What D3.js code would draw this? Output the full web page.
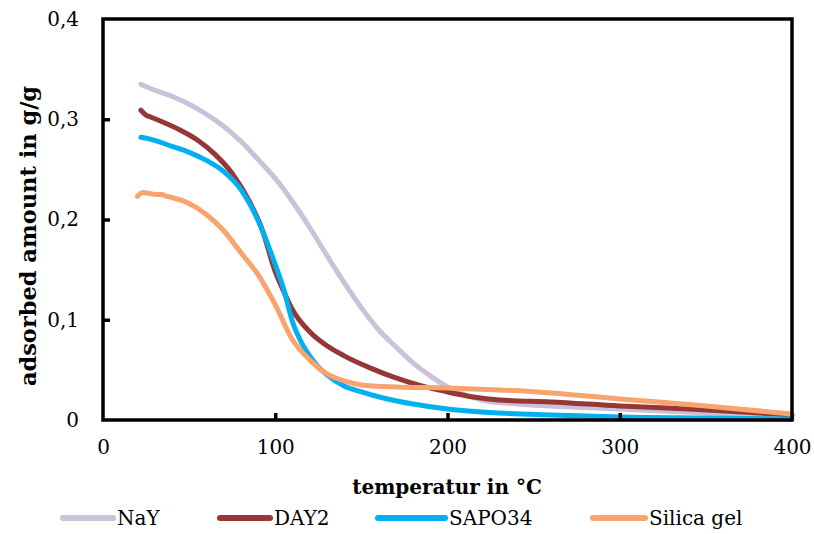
<!DOCTYPE html>
<html>
<head>
<meta charset="utf-8">
<script src="https://cdn.jsdelivr.net/npm/d3@7"></script>
<style>
  body { margin: 0; background: #fff; }
  text { font-family: "DejaVu Serif", "Liberation Serif", serif; fill: #000; }
</style>
</head>
<body>
<div id="chart"></div>
<script>
// series names and colours (legend order)
var seriesNames = ['NaY', 'DAY2', 'SAPO34', 'Silica gel'];
var seriesColors = ['#CCC1DA', '#953735', '#00B0F0', '#F9A36F'];

// values (temperature in °C, adsorbed amount in g/g)
var nayT = [22, 30, 40, 50, 60, 70, 80, 90, 100, 110, 120, 130, 140, 150, 160, 170, 180, 190, 200, 210, 220, 240, 260, 300, 350, 400];
var nayV = [0.335, 0.329, 0.323, 0.315, 0.305, 0.293, 0.278, 0.260, 0.241, 0.218, 0.192, 0.164, 0.137, 0.112, 0.090, 0.073, 0.057, 0.044, 0.033, 0.025, 0.020, 0.016, 0.014, 0.011, 0.007, 0.004];

var day2T = [22, 25, 28, 35, 45, 55, 65, 75, 85, 92, 100, 105, 110, 120, 130, 140, 155, 170, 185, 200, 215, 230, 260, 300, 340, 400];
var day2V = [0.309, 0.304, 0.302, 0.297, 0.289, 0.279, 0.265, 0.246, 0.218, 0.192, 0.148, 0.128, 0.110, 0.088, 0.074, 0.064, 0.052, 0.042, 0.034, 0.028, 0.023, 0.020, 0.018, 0.014, 0.011, 0.005];

var sapoT = [22, 30, 40, 50, 60, 70, 80, 90, 100, 105, 110, 115, 120, 125, 130, 140, 150, 165, 180, 200, 230, 260, 300, 350, 400];
var sapoV = [0.282, 0.279, 0.273, 0.267, 0.259, 0.248, 0.230, 0.199, 0.155, 0.130, 0.098, 0.078, 0.064, 0.053, 0.045, 0.034, 0.028, 0.021, 0.016, 0.011, 0.007, 0.005, 0.003, 0.002, 0.001];

var silicaT = [20, 23, 27, 31, 34, 37, 40, 50, 60, 70, 80, 90, 100, 110, 120, 130, 140, 150, 170, 200, 230, 260, 300, 350, 400];
var silicaV = [0.223, 0.227, 0.226, 0.225, 0.225, 0.223, 0.222, 0.216, 0.205, 0.189, 0.167, 0.145, 0.115, 0.080, 0.060, 0.046, 0.039, 0.035, 0.033, 0.032, 0.030, 0.027, 0.021, 0.014, 0.006];

var xTicks = [0, 100, 200, 300, 400];
var yTicks = [0, 0.1, 0.2, 0.3, 0.4];

var chart = (function() {

  var config = {
    width: 814,
    height: 534,
    left: 103,
    right: 792,
    top: 19,
    bottom: 420
  };

  var svg, x, y;

  function init() {
    svg = d3.select('#chart').append('svg')
      .attr('width', config.width)
      .attr('height', config.height);

    x = d3.scaleLinear().domain([0, 400]).range([config.left, config.right]);
    y = d3.scaleLinear().domain([0, 0.4]).range([config.bottom, config.top]);

    drawSeries();
    drawAxes();
    drawLegend();
  }

  function fmt(v) {
    return String(+v.toFixed(1)).replace('.', ',');
  }

  function drawSeries() {
    var data = [
      { t: nayT, v: nayV },
      { t: day2T, v: day2V },
      { t: sapoT, v: sapoV },
      { t: silicaT, v: silicaV }
    ];
    var line = d3.line()
      .x(function(d) { return x(d[0]); })
      .y(function(d) { return y(d[1]); })
      .curve(d3.curveMonotoneX);

    data.forEach(function(s, i) {
      var pts = s.t.map(function(t, j) { return [t, s.v[j]]; });
      svg.append('path')
        .attr('d', line(pts))
        .attr('fill', 'none')
        .attr('stroke', seriesColors[i])
        .attr('stroke-width', 5)
        .attr('stroke-linejoin', 'round')
        .attr('stroke-linecap', 'round');
    });
  }

  function drawAxes() {
    // plot frame
    svg.append('rect')
      .attr('x', config.left)
      .attr('y', config.top)
      .attr('width', config.right - config.left)
      .attr('height', config.bottom - config.top)
      .attr('fill', 'none')
      .attr('stroke', '#000')
      .attr('stroke-width', 3.5);

    var xAxis = d3.axisBottom(x).tickValues(xTicks).tickSizeInner(-7).tickSizeOuter(0).tickPadding(20);
    var gx = svg.append('g').attr('transform', 'translate(0,' + config.bottom + ')').call(xAxis);
    gx.select('.domain').remove();
    gx.selectAll('line').attr('stroke-width', 3.5)
      .filter(function(d) { return d === 0 || d === 400; }).remove();
    gx.selectAll('text').attr('font-size', 20).attr('font-family', '"DejaVu Serif", serif');

    var yAxis = d3.axisLeft(y).tickValues(yTicks).tickSizeInner(-7).tickSizeOuter(0).tickPadding(24).tickFormat(fmt);
    var gy = svg.append('g').attr('transform', 'translate(' + config.left + ',0)').call(yAxis);
    gy.select('.domain').remove();
    gy.selectAll('line').attr('stroke-width', 3.5)
      .filter(function(d) { return d === 0 || d === 0.4; }).remove();
    gy.selectAll('text').attr('font-size', 20).attr('font-family', '"DejaVu Serif", serif');

    svg.append('text')
      .attr('x', 447)
      .attr('y', 494)
      .attr('text-anchor', 'middle')
      .attr('font-size', 20)
      .attr('font-weight', 'bold')
      .text('temperatur in °C');

    svg.append('text')
      .attr('transform', 'translate(36,236) rotate(-90)')
      .attr('text-anchor', 'middle')
      .attr('font-size', 22.5)
      .attr('font-weight', 'bold')
      .text('adsorbed amount in g/g');
  }

  function drawLegend() {
    var lineStart = [63, 220, 378, 593];
    var lineEnd = [113, 270, 445, 645];
    var ly = 518;
    seriesNames.forEach(function(name, i) {
      svg.append('line')
        .attr('x1', lineStart[i]).attr('x2', lineEnd[i])
        .attr('y1', ly).attr('y2', ly)
        .attr('stroke', seriesColors[i])
        .attr('stroke-width', 6)
        .attr('stroke-linecap', 'round');
      svg.append('text')
        .attr('x', lineEnd[i] + 4)
        .attr('y', ly + 7)
        .attr('font-size', 20)
        .text(name);
    });
  }

  return { init: init };
})();

chart.init();
</script>
</body>
</html>
